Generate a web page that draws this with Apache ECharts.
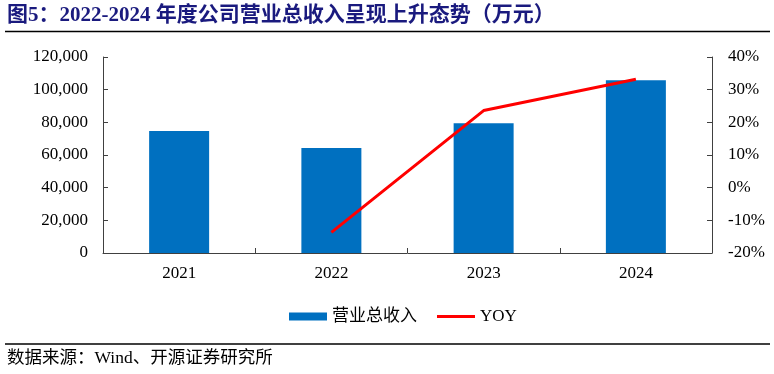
<!DOCTYPE html>
<html>
<head>
<meta charset="utf-8">
<script src="https://cdn.jsdelivr.net/npm/echarts@6/dist/echarts.min.js"></script>
<style>
html,body{margin:0;padding:0;background:#fff;}
#chart{width:774px;height:374px;}
</style>
</head>
<body>
<div id="chart"></div>
<script>
const titleText = '图5：2022-2024 年度公司营业总收入呈现上升态势（万元）';
const sourceText = '数据来源：Wind、开源证券研究所';
const categories = ['2021', '2022', '2023', '2024'];
const revenue = [74700, 64300, 79400, 105700];
const yoy = [null, -0.137, 0.236, 0.332];
const revenueName = '营业总收入';
const yoyName = 'YOY';

const FONT = '"Liberation Serif", "Noto Sans CJK SC", serif';
const axisColor = '#404040';

const chart = echarts.init(document.getElementById('chart'), null, {renderer: 'canvas'});
chart.setOption({
  animation: false,
  backgroundColor: '#ffffff',
  textStyle: {fontFamily: FONT},
  graphic: [
    {type: 'text', left: 7, top: 5, style: {text: titleText, font: 'bold 21px ' + FONT, fill: '#1a1a7e'}},
    {type: 'line', shape: {x1: 5, y1: 31.5, x2: 770, y2: 31.5}, style: {stroke: '#000', lineWidth: 1.5}},
    {type: 'line', shape: {x1: 5, y1: 344, x2: 770, y2: 344}, style: {stroke: '#000', lineWidth: 1.5}},
    {type: 'text', left: 7, top: 350, style: {text: sourceText, font: '17.5px ' + FONT, fill: '#000'}}
  ],
  legend: {
    left: 284, top: 303,
    itemWidth: 38, itemHeight: 8, itemGap: 20,
    symbolKeepAspect: true,
    textStyle: {fontFamily: FONT, fontSize: 17, color: '#000'},
    data: [
      {name: revenueName, icon: 'rect'},
      {name: yoyName, icon: 'path://M0,0H38V3H0Z', itemStyle: {color: '#FF0000'}}
    ]
  },
  grid: {left: 103, right: 62, top: 57, bottom: 121, containLabel: false},
  xAxis: {
    type: 'category',
    data: categories,
    boundaryGap: true,
    axisLine: {lineStyle: {color: axisColor, width: 1}},
    axisTick: {show: true, inside: true, length: 5, alignWithLabel: false, lineStyle: {color: axisColor}},
    axisLabel: {color: '#000', fontSize: 17, fontFamily: FONT, margin: 12}
  },
  yAxis: [
    {
      type: 'value', min: 0, max: 120000, interval: 20000,
      axisLine: {show: true, lineStyle: {color: axisColor}},
      axisTick: {show: true, inside: true, length: 5, lineStyle: {color: axisColor}},
      splitLine: {show: false},
      axisLabel: {color: '#000', fontSize: 17, fontFamily: FONT, margin: 15,
        formatter: v => v.toLocaleString('en-US')}
    },
    {
      type: 'value', min: -0.2, max: 0.4, interval: 0.1, position: 'right',
      axisLine: {show: true, lineStyle: {color: axisColor}},
      axisTick: {show: true, inside: true, length: 5, lineStyle: {color: axisColor}},
      splitLine: {show: false},
      axisLabel: {color: '#000', fontSize: 17, fontFamily: FONT, margin: 16,
        formatter: v => Math.round(v * 100) + '%'}
    }
  ],
  series: [
    {
      name: revenueName, type: 'bar', data: revenue, yAxisIndex: 0,
      barWidth: 60,
      itemStyle: {color: '#0070C0'}
    },
    {
      name: yoyName, type: 'line', data: yoy, yAxisIndex: 1,
      symbol: 'none', connectNulls: false,
      lineStyle: {color: '#FF0000', width: 3},
      itemStyle: {color: '#FF0000'}
    }
  ]
});
</script>
</body>
</html>
